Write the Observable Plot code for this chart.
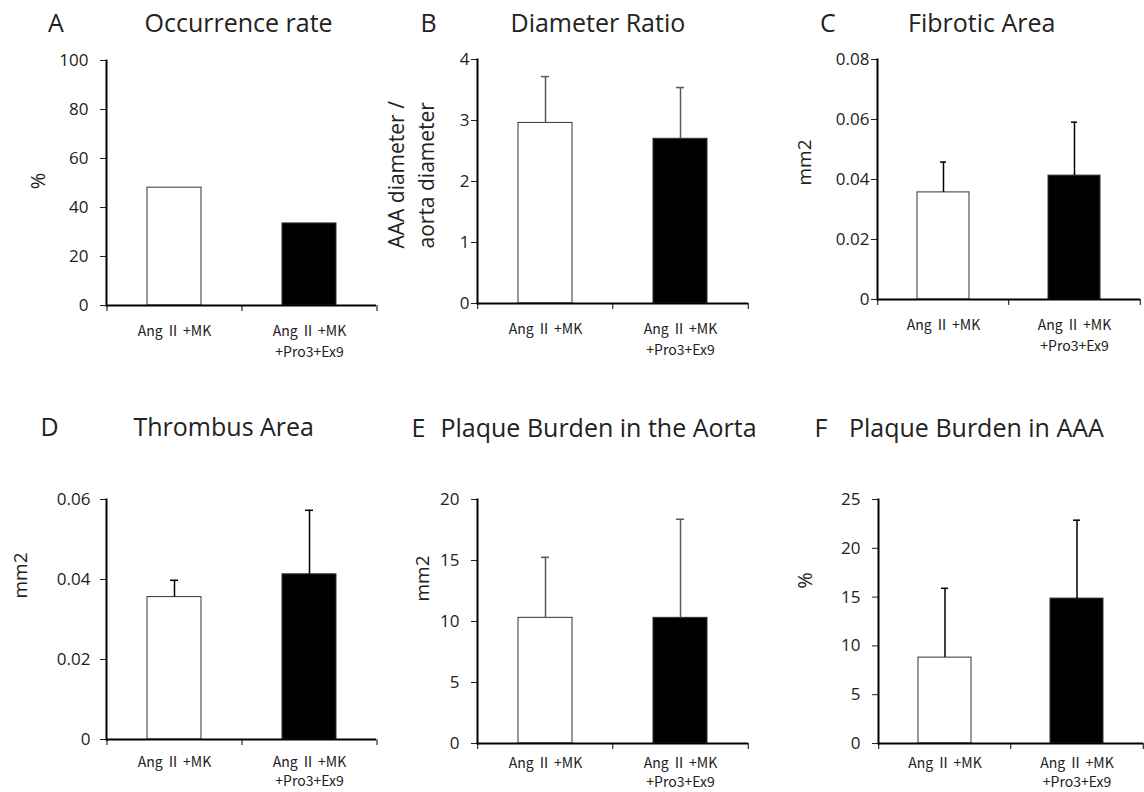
<!DOCTYPE html>
<html><head><meta charset="utf-8">
<script src="https://cdn.jsdelivr.net/npm/d3@7"></script>
<script src="https://cdn.jsdelivr.net/npm/@observablehq/plot@0.6"></script>
<style>
body{margin:0;background:#fff;}
#root{position:relative;width:1144px;height:792px;overflow:hidden;font-family:"Open Sans",sans-serif;color:#222;background:#fff;}
.t{position:absolute;font-size:25px;line-height:30px;white-space:nowrap;color:#222;}
.p{position:absolute;}
.p svg{overflow:visible;}
</style></head><body><div id="root"></div>
<script>
// ---- data ----
const groups = ["Ang Ⅱ +MK", "Ang Ⅱ +MK\n+Pro3+Ex9"];

const occurrenceRate = [48.1, 33.5];            // A, %
const diameterRatio = [2.96, 2.70];             // B
const diameterRatioErr = [0.76, 0.84];
const fibroticArea = [0.0357, 0.0413];          // C, mm2
const fibroticAreaErr = [0.0101, 0.0178];
const thrombusArea = [0.0356, 0.0413];          // D, mm2
const thrombusAreaErr = [0.0042, 0.0160];
const plaqueAorta = [10.3, 10.3];               // E, mm2
const plaqueAortaErr = [4.96, 8.08];
const plaqueAAA = [8.8, 14.85];                 // F, %
const plaqueAAAErr = [7.1, 8.03];

const ticksA = [0, 20, 40, 60, 80, 100];
const ticksB = [0, 1, 2, 3, 4];
const ticksC = [0, 0.02, 0.04, 0.06, 0.08];
const ticksD = [0, 0.02, 0.04, 0.06];
const ticksE = [0, 5, 10, 15, 20];
const ticksF = [0, 5, 10, 15, 20, 25];

const panelLetters = ["A", "B", "C", "D", "E", "F"];
const panelTitles = ["Occurrence rate", "Diameter Ratio", "Fibrotic Area", "Thrombus Area", "Plaque Burden in the Aorta", "Plaque Burden in AAA"];
const yLabels = ["%", "AAA diameter /\naorta diameter", "mm2", "mm2", "mm2", "%"];

// ---- layout ----
const root = document.getElementById("root");

function panel(o) {
  const rows = groups.map((g, i) => ({
    group: g,
    mean: o.values[i],
    upper: o.errors ? o.values[i] + o.errors[i] : null
  }));
  const ymax = o.ticks[o.ticks.length - 1];
  const step = (o.width - o.mL - o.mR) / groups.length;
  const tickLen = ymax * 6 / (o.height - o.mT - o.mB);
  const marks = [
    Plot.barY(rows, {x: "group", y: "mean", fill: "group", stroke: "#333", strokeWidth: 1})
  ];
  if (o.errors) {
    marks.push(
      Plot.ruleX(rows, {x: "group", y1: "mean", y2: "upper", stroke: o.errColor, strokeWidth: 1.5}),
      Plot.tickY(rows, {x: "group", y: "upper", stroke: o.errColor, strokeWidth: 1.5, insetLeft: 23, insetRight: 23})
    );
  }
  marks.push(
    Plot.axisY({ticks: o.ticks, tickSize: 6, tickPadding: o.tickPad, tickFormat: d => String(d), fontSize: 17, label: null}),
    Plot.axisX({tickSize: 0, tickPadding: o.xPad, fontSize: 14, lineHeight: o.xLine, label: null,
      fontFamily: "'Noto Sans CJK JP', 'Open Sans', sans-serif"}),
    Plot.ruleY([0], {stroke: "black", strokeWidth: 2}),
    Plot.frame({anchor: "left", stroke: "black", strokeWidth: 2}),
    Plot.ruleX(groups, {x: d => d, dx: -step / 2, y1: 0, y2: -tickLen, stroke: "black", strokeWidth: 1}),
    Plot.ruleX([groups[groups.length - 1]], {x: d => d, dx: step / 2, y1: 0, y2: -tickLen, stroke: "black", strokeWidth: 1}),
    Plot.text([o.yLabel], {frameAnchor: "left", text: d => d, rotate: -90, dx: o.labelDx, dy: o.labelDy,
      fontSize: o.labelSize, textAnchor: o.labelAnchor || "middle", lineHeight: 1.4, fill: "#222"})
  );
  const chart = Plot.plot({
    width: o.width, height: o.height,
    marginLeft: o.mL, marginRight: o.mR, marginTop: o.mT, marginBottom: o.mB,
    style: {fontFamily: "Open Sans", background: "transparent", color: "#222"},
    x: {type: "band", domain: groups, paddingInner: 0.6, paddingOuter: 0.3},
    y: {domain: [0, ymax]},
    color: {domain: groups, range: ["#ffffff", "#000000"]},
    marks
  });
  const div = document.createElement("div");
  div.className = "p";
  div.style.left = o.left + "px";
  div.style.top = o.top + "px";
  div.appendChild(chart);
  root.appendChild(div);
}

panel({values: occurrenceRate, errors: null, ticks: ticksA, yLabel: yLabels[0],
  left: 0, top: 0, width: 380, height: 370, mL: 106, mR: 4, mT: 60, mB: 65, tickPad: 12, xPad: 16, xLine: 1.5,
  labelDx: -70, labelDy: -2, labelSize: 20, errColor: "black"});
panel({values: diameterRatio, errors: diameterRatioErr, ticks: ticksB, yLabel: yLabels[1],
  left: 380, top: 0, width: 380, height: 370, mL: 97, mR: 12, mT: 59, mB: 67, tickPad: 2, xPad: 16, xLine: 1.5,
  labelDx: -68, labelDy: 67, labelSize: 21, labelAnchor: "start", errColor: "#595959"});
panel({values: fibroticArea, errors: fibroticAreaErr, ticks: ticksC, yLabel: yLabels[2],
  left: 760, top: 0, width: 384, height: 370, mL: 117, mR: 4, mT: 59, mB: 71, tickPad: 2, xPad: 16, xLine: 1.5,
  labelDx: -75, labelDy: -17, labelSize: 19, errColor: "black"});
panel({values: thrombusArea, errors: thrombusAreaErr, ticks: ticksD, yLabel: yLabels[3],
  left: 0, top: 400, width: 380, height: 392, mL: 106, mR: 4, mT: 99, mB: 53, tickPad: 10, xPad: 14, xLine: 1.35,
  labelDx: -88, labelDy: -44, labelSize: 19, errColor: "black"});
panel({values: plaqueAorta, errors: plaqueAortaErr, ticks: ticksE, yLabel: yLabels[4],
  left: 380, top: 400, width: 380, height: 392, mL: 97, mR: 12, mT: 99, mB: 49, tickPad: 12, xPad: 12, xLine: 1.3,
  labelDx: -57, labelDy: -43, labelSize: 19, errColor: "#595959"});
panel({values: plaqueAAA, errors: plaqueAAAErr, ticks: ticksF, yLabel: yLabels[5],
  left: 760, top: 400, width: 384, height: 392, mL: 118, mR: 1, mT: 99, mB: 49, tickPad: 12, xPad: 12, xLine: 1.3,
  labelDx: -75, labelDy: -41, labelSize: 20, errColor: "black"});

// titles
const titlePos = [
  {lx: 48, tx: 144.5, top: 7},
  {lx: 420.5, tx: 510.5, top: 7},
  {lx: 820, tx: 908, top: 7},
  {lx: 40.5, tx: 133.5, top: 411},
  {lx: 411.5, tx: 440.5, top: 412},
  {lx: 814.5, tx: 849, top: 412}
];
panelLetters.forEach((L, i) => {
  const a = document.createElement("div");
  a.className = "t"; a.textContent = L;
  a.style.left = titlePos[i].lx + "px"; a.style.top = titlePos[i].top + "px";
  root.appendChild(a);
  const b = document.createElement("div");
  b.className = "t"; b.textContent = panelTitles[i];
  b.style.left = titlePos[i].tx + "px"; b.style.top = titlePos[i].top + "px";
  root.appendChild(b);
});
</script></body></html>
